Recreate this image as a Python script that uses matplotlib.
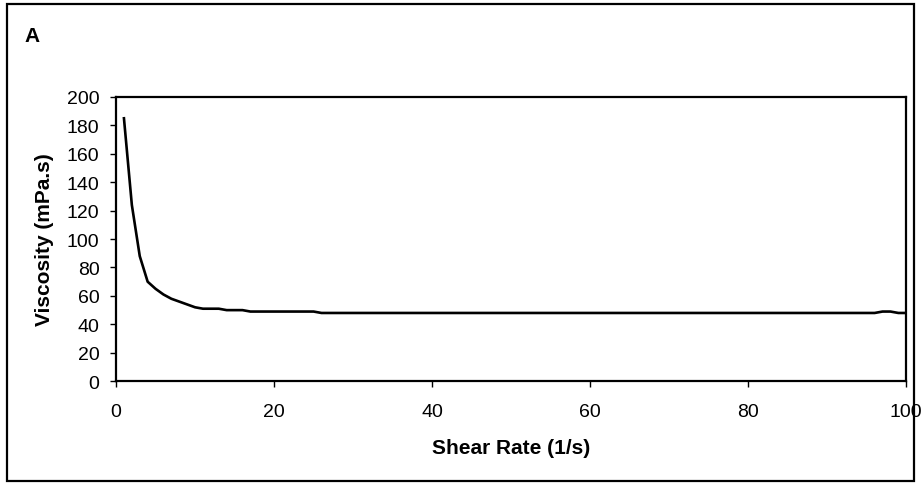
import matplotlib

matplotlib.use("Agg")
import matplotlib.pyplot as plt
from matplotlib.patches import Rectangle

plt.rcParams["font.family"] = ["Liberation Sans", "DejaVu Sans"]

shear_rate = list(range(1, 101))
viscosity = (
    [185, 124, 88, 70, 65, 61, 58, 56, 54, 52,
     51, 51, 51, 50, 50, 50, 49, 49, 49, 49,
     49, 49, 49, 49, 49]
    + [48] * 71
    + [49, 49, 48, 48]
)

x_ticks = [0, 20, 40, 60, 80, 100]
y_ticks = list(range(0, 201, 20))

fig = plt.figure(figsize=(9.21, 4.85), dpi=100)
ax = fig.add_axes([0.126, 0.212, 0.858, 0.586])

ax.plot(shear_rate, viscosity, color="black", linewidth=1.9)

ax.set_xlim(0, 100)
ax.set_ylim(0, 200)
ax.set_xticks(x_ticks)
ax.set_yticks(y_ticks)
ax.tick_params(direction="out", length=4, width=1, labelsize=14)
ax.tick_params(axis="x", pad=12)
ax.tick_params(axis="y", pad=8)
for spine in ax.spines.values():
    spine.set_linewidth(1.6)

ax.set_xlabel("Shear Rate (1/s)", fontsize=15, fontweight="bold", labelpad=13)
ax.set_ylabel("Viscosity (mPa.s)", fontsize=15, fontweight="bold", labelpad=9)

fig.text(0.027, 0.925, "A", fontsize=15, fontweight="bold", ha="left", va="center")

fig.patches.append(Rectangle((0.008, 0.006), 0.984, 0.984, transform=fig.transFigure,
                             fill=False, edgecolor="black", linewidth=1.6))

fig.savefig("out.png", dpi=100)
plt.close(fig)
